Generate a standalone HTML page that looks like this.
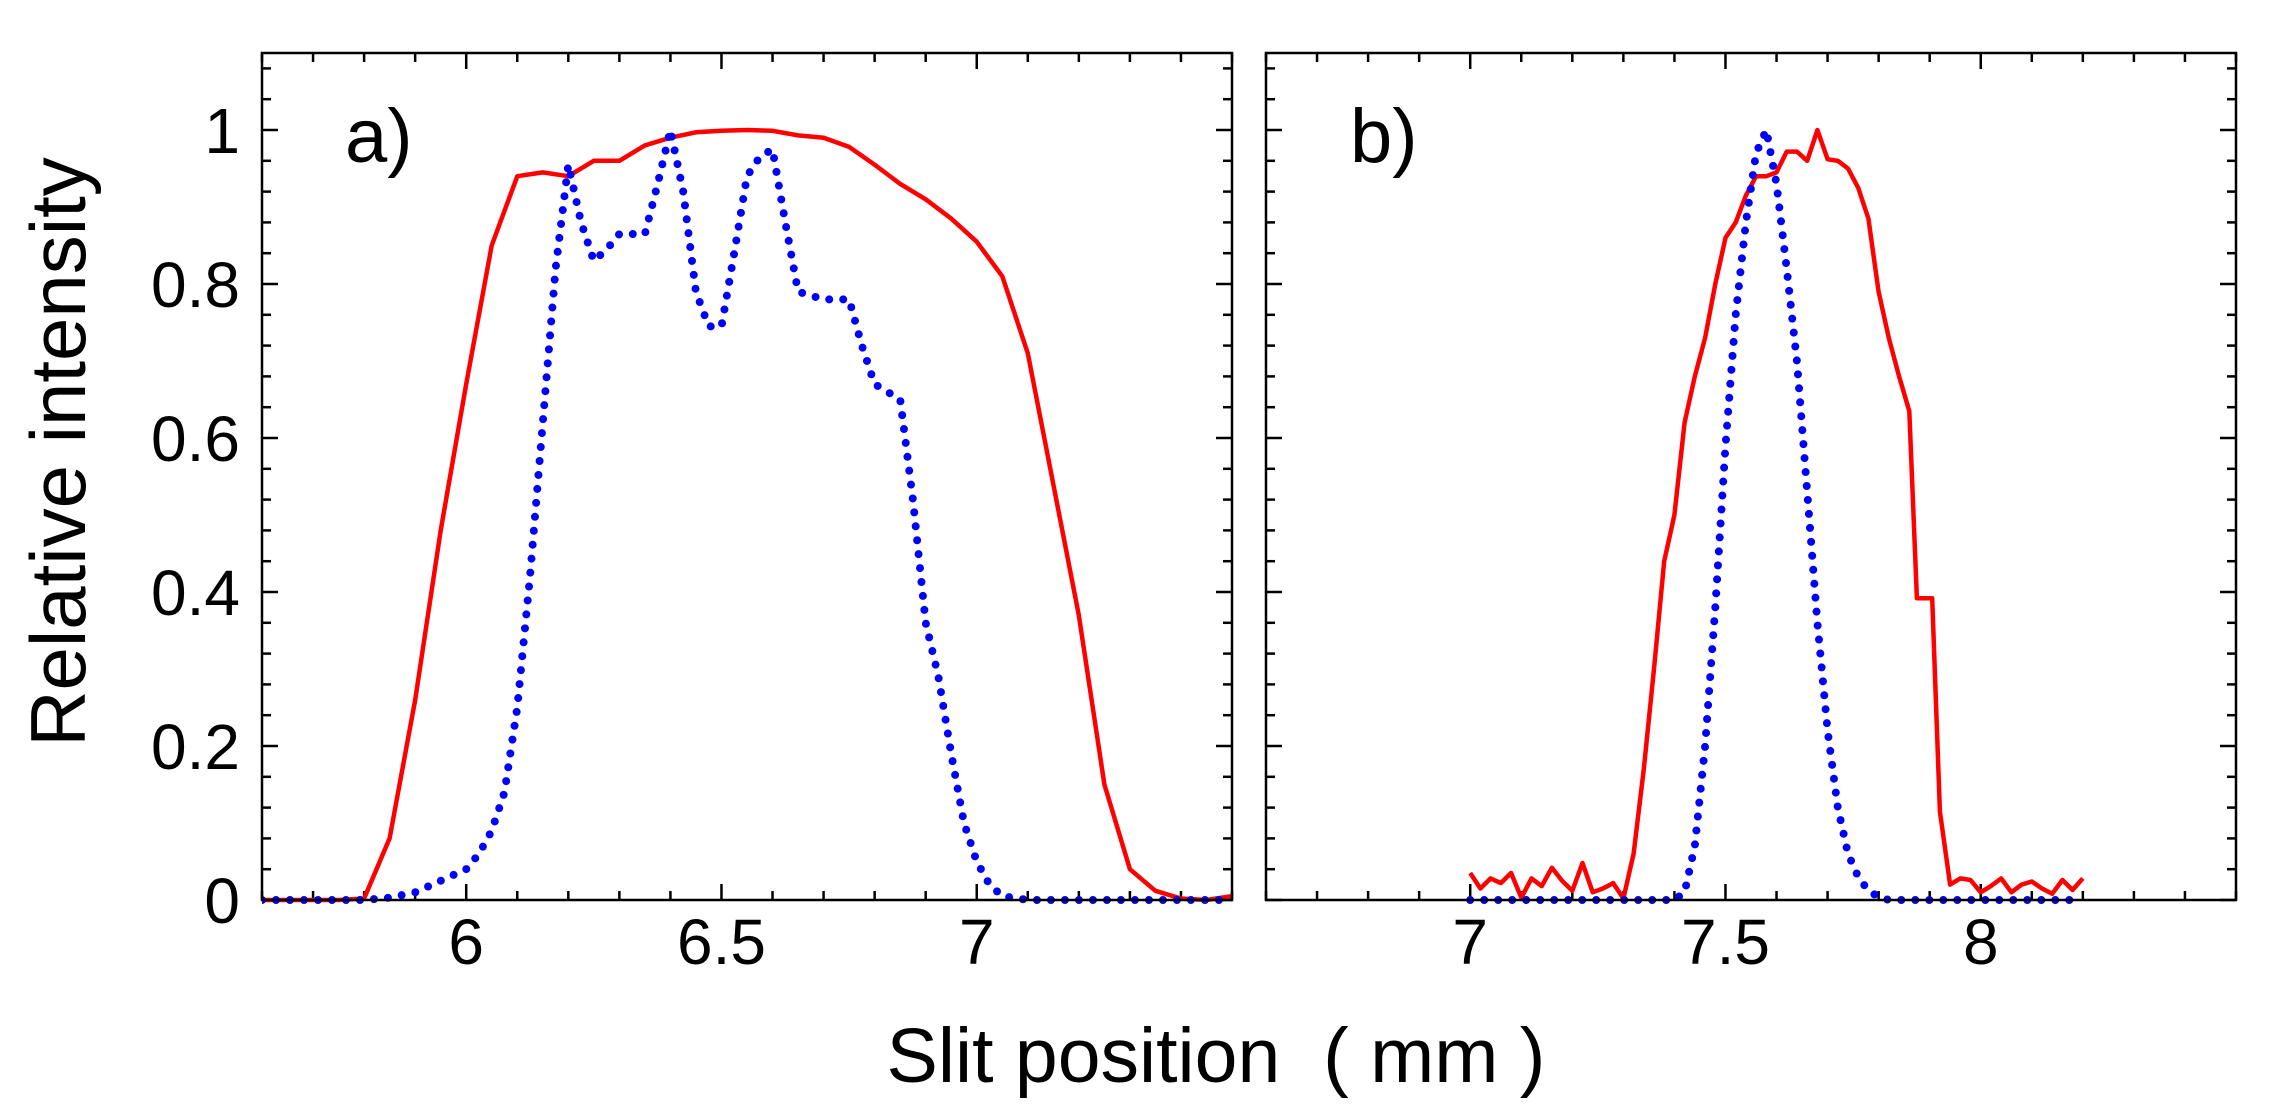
<!DOCTYPE html>
<html><head><meta charset="utf-8"><style>
html,body{margin:0;padding:0;background:#fff}
svg{display:block;font-family:"Liberation Sans",Arial,sans-serif}
</style></head><body>
<svg id="chart" width="2292" height="1113" viewBox="0 0 2292 1113" xmlns="http://www.w3.org/2000/svg">
<text x="0" y="0" transform="translate(85,452) rotate(-90)" text-anchor="middle" font-size="78">Relative intensity</text>
<text x="1216" y="1082" text-anchor="middle" font-size="77" xml:space="preserve">Slit position  ( mm )</text>
</svg>
<script>
const aRedX=[5.6,5.65,5.7,5.75,5.8,5.85,5.9,5.95,6.0,6.05,6.1,6.15,6.2,6.25,6.3,6.35,6.4,6.45,6.5,6.55,6.6,6.65,6.7,6.75,6.8,6.85,6.9,6.95,7.0,7.05,7.1,7.15,7.2,7.25,7.3,7.35,7.4,7.45,7.5];
const aRedY=[0,0,0,0,0.002,0.08,0.26,0.48,0.67,0.85,0.94,0.945,0.94,0.96,0.96,0.98,0.99,0.997,0.999,1.0,0.999,0.993,0.99,0.978,0.955,0.93,0.91,0.885,0.855,0.81,0.71,0.54,0.37,0.15,0.04,0.012,0.002,0,0.005];
const aBlueX=[5.6,5.7,5.8,5.85,5.9,5.95,6.0,6.025,6.05,6.075,6.1,6.125,6.15,6.175,6.2,6.225,6.25,6.275,6.3,6.35,6.375,6.4,6.425,6.45,6.475,6.5,6.525,6.55,6.575,6.6,6.625,6.65,6.7,6.75,6.775,6.8,6.85,6.875,6.9,6.925,6.95,6.975,7.0,7.025,7.05,7.1,7.3,7.5];
const aBlueY=[0,0,0,0.003,0.01,0.025,0.04,0.06,0.09,0.14,0.25,0.42,0.62,0.82,0.955,0.88,0.83,0.845,0.865,0.865,0.93,1.0,0.92,0.79,0.745,0.745,0.84,0.94,0.965,0.975,0.88,0.79,0.78,0.78,0.72,0.67,0.65,0.52,0.36,0.29,0.19,0.1,0.05,0.02,0.005,0,0,0];
const bRedX=[7.0,7.02,7.04,7.06,7.08,7.1,7.12,7.14,7.16,7.18,7.2,7.22,7.24,7.26,7.28,7.3,7.32,7.34,7.36,7.38,7.4,7.42,7.44,7.46,7.48,7.5,7.52,7.54,7.56,7.58,7.6,7.62,7.64,7.66,7.68,7.7,7.72,7.74,7.76,7.78,7.8,7.82,7.84,7.86,7.875,7.905,7.92,7.94,7.96,7.98,8.0,8.02,8.04,8.06,8.08,8.1,8.12,8.14,8.16,8.18,8.2];
const bRedY=[0.035,0.015,0.028,0.022,0.035,0.003,0.028,0.018,0.042,0.025,0.012,0.048,0.01,0.015,0.022,0.002,0.06,0.17,0.3,0.44,0.5,0.62,0.68,0.73,0.8,0.86,0.88,0.915,0.94,0.94,0.945,0.972,0.972,0.96,1.0,0.962,0.96,0.95,0.925,0.885,0.79,0.73,0.68,0.635,0.392,0.392,0.115,0.02,0.028,0.026,0.01,0.018,0.028,0.01,0.02,0.024,0.015,0.008,0.026,0.013,0.028];
const bBlueX=[7.0,7.2,7.4,7.42,7.44,7.46,7.48,7.5,7.52,7.54,7.56,7.58,7.6,7.62,7.64,7.66,7.68,7.7,7.72,7.74,7.76,7.78,7.8,7.82,8.0,8.2];
const bBlueY=[0,0,0,0.01,0.07,0.2,0.38,0.59,0.76,0.88,0.97,1.0,0.93,0.82,0.7,0.53,0.36,0.22,0.12,0.06,0.03,0.012,0.004,0,0,0];
const yTicks=[0,0.2,0.4,0.6,0.8,1];
const yTickLabels=["0","0.2","0.4","0.6","0.8","1"];
const aXTicks=[6,6.5,7];
const aXTickLabels=["6","6.5","7"];
const bXTicks=[7,7.5,8];
const bXTickLabels=["7","7.5","8"];

const NS="http://www.w3.org/2000/svg";
const svg=document.getElementById('chart');
function mk(tag,attrs,parent){const e=document.createElementNS(NS,tag);for(const k in attrs)e.setAttribute(k,attrs[k]);(parent||svg).appendChild(e);return e;}
const Y0=900,Y1=53,YMAX=1.1;
function ys(v){return Y0-(v/YMAX)*(Y0-Y1);}
function panel(name,L,R,xmin,xmax,xt,xtl,showY,label,series){
  const g=mk('g',{});
  
  
  const xs=v=>L+(v-xmin)/(xmax-xmin)*(R-L);
  for(let v=Math.ceil(xmin*10-1e-6)/10;v<=xmax+1e-6;v=Math.round((v+0.1)*10)/10){
    const major=xt.some(t=>Math.abs(t-v)<1e-6);const len=major?16:9;const x=xs(v);
    mk('line',{x1:x,x2:x,y1:Y0,y2:Y0-len,stroke:'#000','stroke-width':2.5},g);
    mk('line',{x1:x,x2:x,y1:Y1,y2:Y1+len,stroke:'#000','stroke-width':2.5},g);
  }
  for(let i=0;i<=27;i++){const v=i*0.04;const major=Math.abs(v/0.2-Math.round(v/0.2))<1e-6;const len=major?16:9;const y=ys(v);
    mk('line',{x1:L,x2:L+len,y1:y,y2:y,stroke:'#000','stroke-width':2.5},g);
    mk('line',{x1:R,x2:R-len,y1:y,y2:y,stroke:'#000','stroke-width':2.5},g);}
  xt.forEach((t,i)=>{const e=mk('text',{x:xs(t),y:964,'text-anchor':'middle','font-size':64},g);e.textContent=xtl[i];
    
    });
  if(showY) yTicks.forEach((t,i)=>{const e=mk('text',{x:L-22,y:ys(t)+23,'text-anchor':'end','font-size':64},g);e.textContent=yTickLabels[i];
    
    });
  const clip=mk('clipPath',{id:'c'+name},g);mk('rect',{x:L,y:Y1,width:R-L,height:Y0-Y1+4},clip);
  series.forEach(s=>{
    const d=s.x.map((v,i)=>(i?'L':'M')+xs(v).toFixed(1)+','+ys(s.y[i]).toFixed(1)).join('');
    const p=mk('path',s.dot?{d:d,fill:'none',stroke:'#0000ff','stroke-width':8,'stroke-linecap':'round','stroke-dasharray':'0 14','clip-path':'url(#c'+name+')'}:{d:d,fill:'none',stroke:'#ff0000','stroke-width':4.5,'stroke-linejoin':'round','clip-path':'url(#c'+name+')'},g);
    
    
  });
  const fr=mk('rect',{x:L,y:Y1,width:R-L,height:Y0-Y1,fill:'none',stroke:'#000','stroke-width':2.5},g);
  
  
  const lb=mk('text',{x:label[1],y:162,'font-size':76},g);lb.textContent=label[0];
  
  
}
panel('panel-a',262,1232,5.6,7.5,aXTicks,aXTickLabels,true,['a)',345],[{name:'red-profile-a',x:aRedX,y:aRedY},{name:'blue-profile-a',x:aBlueX,y:aBlueY,dot:true}]);
panel('panel-b',1266,2236,6.6,8.5,bXTicks,bXTickLabels,false,['b)',1350],[{name:'red-profile-b',x:bRedX,y:bRedY},{name:'blue-profile-b',x:bBlueX,y:bBlueY,dot:true}]);
</script>
</body></html>
